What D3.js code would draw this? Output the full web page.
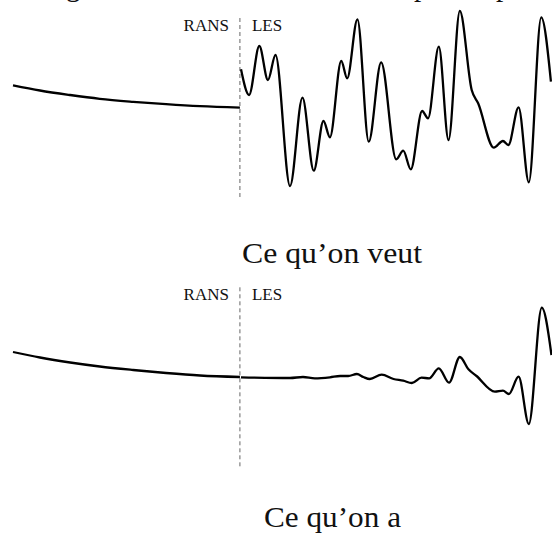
<!DOCTYPE html>
<html>
<head>
<meta charset="utf-8">
<script src="https://cdn.jsdelivr.net/npm/d3@7"></script>
<style>
  html, body { margin: 0; padding: 0; background: #fff; }
  svg { display: block; }
  text { font-family: "Liberation Serif", "DejaVu Serif", serif; fill: #111; }
</style>
</head>
<body>
<svg id="chart" width="552" height="534"></svg>
<script>
// ---- data (t: position along the domain, v: signal value) ----
const interfaceT = 42.1;
const regionLabels = ["RANS", "LES"];
const panelTitles = ["Ce qu\u2019on veut", "Ce qu\u2019on a"];

const ransWantT = [0, 5.0, 10.6, 16.1, 22.3, 28.4, 34.7, 42.1];
const ransWantV = [2.24, 1.72, 1.27, 0.89, 0.59, 0.35, 0.15, 0.01];

const lesWantT = [42.3, 43.8, 45.7, 47.3, 48.7, 51.4, 53.7, 55.8, 57.6, 58.8, 60.9, 62.0, 63.9, 66.0, 68.3, 71.1, 72.4, 73.8, 75.9, 77.0, 79.0, 80.8, 82.9, 85.1, 86.3, 89.2, 90.9, 91.9, 93.8, 95.7, 98.0, 99.8];
const lesWantV = [3.84, 1.27, 6.17, 2.77, 5.27, -7.83, 1.0, -6.3, -1.33, -2.96, 4.67, 2.94, 8.84, -3.4, 4.54, -5.16, -4.3, -6.16, -0.33, -1.06, 6.1, -3.23, 9.67, 1.77, 0.44, -4.0, -3.33, -3.73, 0.04, -7.46, 9.04, 2.6];

const ransHaveT = [0, 5.0, 10.6, 16.1, 22.3, 28.4, 34.7, 42.1];
const ransHaveV = [2.5, 1.95, 1.45, 1.05, 0.7, 0.4, 0.15, 0.0];

const lesHaveT = [42.3, 51.4, 53.8, 56.0, 58.8, 60.7, 62.2, 63.8, 65.0, 66.2, 68.4, 70.6, 72.4, 74.0, 75.8, 77.2, 79.0, 80.9, 82.9, 84.5, 86.0, 89.4, 90.9, 92.0, 93.8, 95.7, 98.1, 99.9];
const lesHaveV = [-0.03, -0.1, 0, -0.13, -0.03, 0.1, 0.1, 0.3, 0, -0.2, 0.23, -0.2, -0.37, -0.6, -0.07, -0.13, 0.87, -0.57, 2.0, 0.77, 0.1, -1.47, -1.37, -1.7, 0.03, -4.7, 6.93, 2.2];

// ---- drawing ----
const svg = d3.select("#chart");
const x = d3.scaleLinear().domain([0, 100]).range([13, 552]);

// cut-off text line from the page above (only descenders visible in the reference)
svg.append("text").attr("x", 66).attr("y", -4).style("font-size", "29px").text("g");
svg.append("text").attr("x", 414).attr("y", -4).style("font-size", "29px").text("p");
svg.append("text").attr("x", 496).attr("y", -4).style("font-size", "29px").text("p");

const panels = [
  { top: 0, ransT: ransWantT, ransV: ransWantV, lesT: lesWantT, lesV: lesWantV, title: panelTitles[0], titleX: 242, titleLen: 180, titleY: 262.7 },
  { top: 269.3, ransT: ransHaveT, ransV: ransHaveV, lesT: lesHaveT, lesV: lesHaveV, title: panelTitles[1], titleX: 264, titleLen: 137, titleY: 527 }
];

const zip = (a, b) => a.map((d, i) => [d, b[i]]);

panels.forEach(p => {
  const g = svg.append("g").attr("transform", `translate(0,${p.top})`);
  const y = d3.scaleLinear().domain([-8, 10]).range([187.7, 7.7]);
  const line = d3.line().x(d => x(d[0])).y(d => y(d[1])).curve(d3.curveMonotoneX);

  g.append("line")
    .attr("x1", x(interfaceT)).attr("x2", x(interfaceT))
    .attr("y1", 18).attr("y2", 197)
    .attr("stroke", "#666").attr("stroke-width", 1)
    .attr("stroke-dasharray", "4,3");

  g.append("text").attr("x", x(interfaceT) - 11).attr("y", 30.7)
    .attr("text-anchor", "end").style("font-size", "17px").text(regionLabels[0]);
  g.append("text").attr("x", x(interfaceT) + 12).attr("y", 30.7)
    .style("font-size", "17px").text(regionLabels[1]);

  g.append("path").datum(zip(p.ransT, p.ransV)).attr("d", line)
    .attr("fill", "none").attr("stroke", "#000").attr("stroke-width", 2.3);
  g.append("path").datum(zip(p.lesT, p.lesV)).attr("d", line)
    .attr("fill", "none").attr("stroke", "#000").attr("stroke-width", 2.3);

  svg.append("text").attr("x", p.titleX).attr("y", p.titleY)
    .style("font-size", "29px")
    .attr("textLength", p.titleLen).attr("lengthAdjust", "spacingAndGlyphs")
    .text(p.title);
});
</script>
</body>
</html>
